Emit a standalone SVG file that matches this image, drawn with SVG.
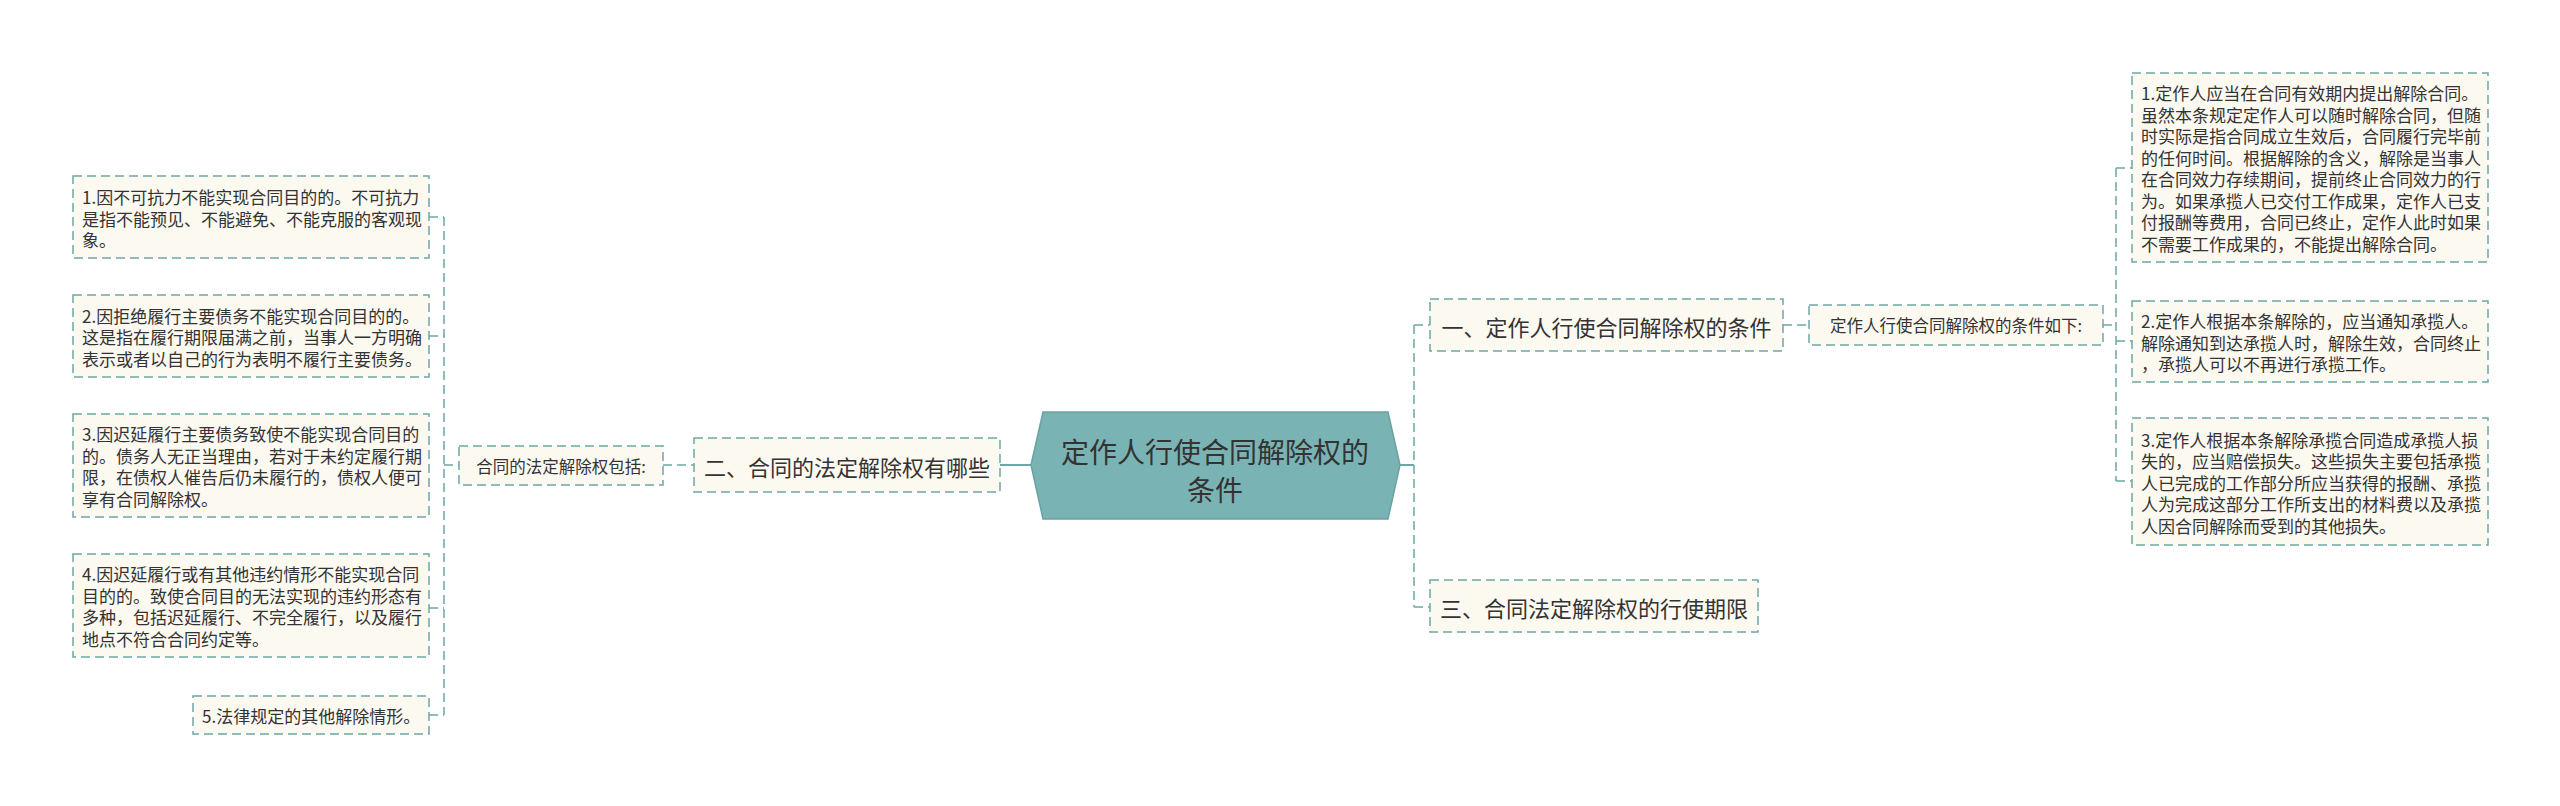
<svg xmlns="http://www.w3.org/2000/svg" width="2560" height="806" viewBox="0 0 2560 806">
<style>
  .bg { fill: #ffffff; }
  .box { fill: #fcf9f0; stroke: #6ea7a5; stroke-width: 1.5; stroke-dasharray: 9 5; }
  .hex { fill: #7ab3b4; stroke: #6aa2a3; stroke-width: 1.5; }
  .t { font-family: "Noto Sans CJK SC", "Noto Sans", sans-serif; fill: #333333; dominant-baseline: central; }
  .leaf { font-size: 17px; }
  .lab { font-size: 16.5px; }
  .main { font-size: 22px; }
  .root { font-size: 28px; }
  .con { fill: none; stroke: #6ea7a5; stroke-width: 1.5; stroke-dasharray: 9 5; }
  .solid { fill: none; stroke: #6ea7a5; stroke-width: 2; }
</style>
<rect class="bg" x="0" y="0" width="2560" height="806"/>

<g id="connectors">
  <path class="solid" d="M1000 465 H1031"/>
  <path class="solid" d="M1399 465 H1414"/>
  <path class="con" d="M663 465 H694"/>
  <path class="con" d="M444 465 H459"/>
  <path class="con" d="M444 217 V715"/>
  <path class="con" d="M429 217 H444"/>
  <path class="con" d="M429 336 H444"/>
  <path class="con" d="M429 608 H444"/>
  <path class="con" d="M429 715 H444"/>
  <path class="con" d="M1414 325 V607"/>
  <path class="con" d="M1414 325 H1430"/>
  <path class="con" d="M1414 607 H1430"/>
  <path class="con" d="M1783 325 H1809"/>
  <path class="con" d="M2103 325 H2116"/>
  <path class="con" d="M2116 168 V481"/>
  <path class="con" d="M2116 168 H2132"/>
  <path class="con" d="M2116 341 H2132"/>
  <path class="con" d="M2116 481 H2132"/>
</g>

<g id="root">
  <polygon class="hex" points="1031,465 1043,412 1388,412 1400,465 1388,519 1043,519"/>
  <text class="t root" x="1215" text-anchor="middle"><tspan x="1215" y="451">定作人行使合同解除权的</tspan><tspan x="1215" y="489">条件</tspan></text>
</g>

<g id="n2">
  <rect class="box" x="694" y="438" width="306" height="54"/>
  <text class="t main" x="847" y="466" text-anchor="middle">二、合同的法定解除权有哪些</text>
</g>
<g id="n2label">
  <rect class="box" x="459" y="446" width="204" height="39"/>
  <text class="t lab" x="561" y="466" text-anchor="middle">合同的法定解除权包括:</text>
</g>

<g id="L1">
  <rect class="box" x="73" y="176" width="356" height="82"/>
  <text class="t leaf"><tspan x="82" y="196">1.因不可抗力不能实现合同目的的。不可抗力</tspan><tspan x="82" y="217.5">是指不能预见、不能避免、不能克服的客观现</tspan><tspan x="82" y="239">象。</tspan></text>
</g>
<g id="L2">
  <rect class="box" x="73" y="295" width="356" height="82"/>
  <text class="t leaf"><tspan x="82" y="314.5">2.因拒绝履行主要债务不能实现合同目的的。</tspan><tspan x="82" y="336">这是指在履行期限届满之前，当事人一方明确</tspan><tspan x="82" y="357.5">表示或者以自己的行为表明不履行主要债务。</tspan></text>
</g>
<g id="L3">
  <rect class="box" x="73" y="414" width="356" height="103"/>
  <text class="t leaf"><tspan x="82" y="433.3">3.因迟延履行主要债务致使不能实现合同目的</tspan><tspan x="82" y="454.8">的。债务人无正当理由，若对于未约定履行期</tspan><tspan x="82" y="476.3">限，在债权人催告后仍未履行的，债权人便可</tspan><tspan x="82" y="497.8">享有合同解除权。</tspan></text>
</g>
<g id="L4">
  <rect class="box" x="73" y="554" width="356" height="103"/>
  <text class="t leaf"><tspan x="82" y="573.3">4.因迟延履行或有其他违约情形不能实现合同</tspan><tspan x="82" y="594.8">目的的。致使合同目的无法实现的违约形态有</tspan><tspan x="82" y="616.3">多种，包括迟延履行、不完全履行，以及履行</tspan><tspan x="82" y="637.8">地点不符合合同约定等。</tspan></text>
</g>
<g id="L5">
  <rect class="box" x="193" y="696" width="236" height="38"/>
  <text class="t leaf" x="202" y="715">5.法律规定的其他解除情形。</text>
</g>

<g id="n1">
  <rect class="box" x="1430" y="299" width="353" height="52"/>
  <text class="t main" x="1606.5" y="326" text-anchor="middle">一、定作人行使合同解除权的条件</text>
</g>
<g id="n1label">
  <rect class="box" x="1809" y="305" width="294" height="40"/>
  <text class="t lab" x="1956" y="325" text-anchor="middle">定作人行使合同解除权的条件如下:</text>
</g>
<g id="n3">
  <rect class="box" x="1430" y="580" width="328" height="52"/>
  <text class="t main" x="1594" y="607" text-anchor="middle">三、合同法定解除权的行使期限</text>
</g>

<g id="R1">
  <rect class="box" x="2132" y="73" width="356" height="189"/>
  <text class="t leaf"><tspan x="2141" y="92.3">1.定作人应当在合同有效期内提出解除合同。</tspan><tspan x="2141" y="113.8">虽然本条规定定作人可以随时解除合同，但随</tspan><tspan x="2141" y="135.3">时实际是指合同成立生效后，合同履行完毕前</tspan><tspan x="2141" y="156.8">的任何时间。根据解除的含义，解除是当事人</tspan><tspan x="2141" y="178.3">在合同效力存续期间，提前终止合同效力的行</tspan><tspan x="2141" y="199.8">为。如果承揽人已交付工作成果，定作人已支</tspan><tspan x="2141" y="221.3">付报酬等费用，合同已终止，定作人此时如果</tspan><tspan x="2141" y="242.8">不需要工作成果的，不能提出解除合同。</tspan></text>
</g>
<g id="R2">
  <rect class="box" x="2132" y="301" width="356" height="81"/>
  <text class="t leaf"><tspan x="2141" y="320">2.定作人根据本条解除的，应当通知承揽人。</tspan><tspan x="2141" y="341.5">解除通知到达承揽人时，解除生效，合同终止</tspan><tspan x="2141" y="363">，承揽人可以不再进行承揽工作。</tspan></text>
</g>
<g id="R3">
  <rect class="box" x="2132" y="418" width="356" height="127"/>
  <text class="t leaf"><tspan x="2141" y="438.5">3.定作人根据本条解除承揽合同造成承揽人损</tspan><tspan x="2141" y="460">失的，应当赔偿损失。这些损失主要包括承揽</tspan><tspan x="2141" y="481.5">人已完成的工作部分所应当获得的报酬、承揽</tspan><tspan x="2141" y="503">人为完成这部分工作所支出的材料费以及承揽</tspan><tspan x="2141" y="524.5">人因合同解除而受到的其他损失。</tspan></text>
</g>
</svg>
